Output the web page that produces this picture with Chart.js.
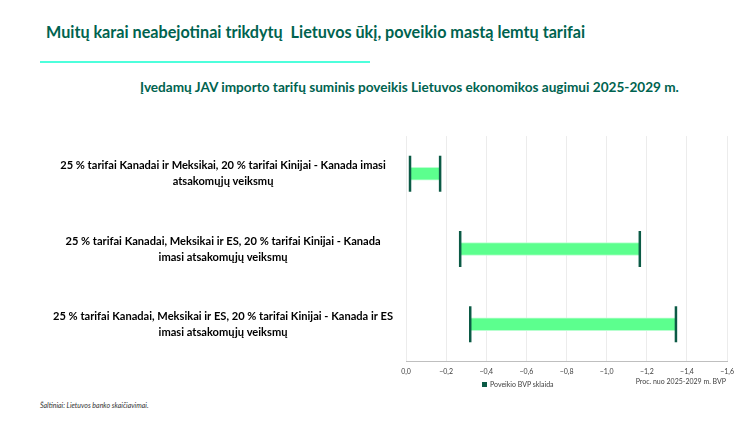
<!DOCTYPE html>
<html>
<head>
<meta charset="utf-8">
<script src="https://cdn.jsdelivr.net/npm/chart.js@4.4.1/dist/chart.umd.min.js"></script>
<style>
  body { margin:0; background:#fff; width:756px; height:422px; overflow:hidden; position:relative; font-family:Lato, sans-serif; }
  #title { position:absolute; left:46px; top:22px; font-size:16.2px; font-weight:bold; color:#00634f; white-space:nowrap; }
  #rule { position:absolute; left:40px; top:61px; width:330px; height:1.5px; background:#4dffdc; }
  #subtitle { position:absolute; left:140px; top:79px; font-size:13.6px; font-weight:bold; color:#00634f; white-space:nowrap; }
  #wrap { position:absolute; left:0; top:115px; width:740px; height:268px; }
  #legend { position:absolute; left:482px; top:380px; font-size:7px; color:#404040; white-space:nowrap; }
  #legend span { display:inline-block; width:5px; height:5px; background:#0b5a45; margin-right:3px; }
  #unit { position:absolute; right:30px; top:377px; font-size:7px; color:#404040; white-space:nowrap; }
  #source { position:absolute; left:40px; top:401px; font-size:7px; font-style:italic; color:#333; white-space:nowrap; }
</style>
</head>
<body>
<div id="title">Muitų karai neabejotinai trikdytų&nbsp; Lietuvos ūkį, poveikio mastą lemtų tarifai</div>
<div id="rule"></div>
<div id="subtitle">Įvedamų JAV importo tarifų suminis poveikis Lietuvos ekonomikos augimui 2025-2029 m.</div>
<div id="wrap"><canvas id="chart"></canvas></div>
<div id="legend"><span></span>Poveikio BVP sklaida</div>
<div id="unit">Proc. nuo 2025-2029 m. BVP</div>
<div id="source">Šaltiniai: Lietuvos banko skaičiavimai.</div>
<script>
var scenarios = [
  ['25 % tarifai Kanadai ir Meksikai, 20 % tarifai Kinijai - Kanada imasi', 'atsakomųjų veiksmų'],
  ['25 % tarifai Kanadai, Meksikai ir ES, 20 % tarifai Kinijai - Kanada', 'imasi atsakomųjų veiksmų'],
  ['25 % tarifai Kanadai, Meksikai ir ES, 20 % tarifai Kinijai - Kanada ir ES', 'imasi atsakomųjų veiksmų']
];
var lowImpact = [-0.02, -0.27, -0.32];
var highImpact = [-0.17, -1.165, -1.345];
var xTicks = [0, -0.2, -0.4, -0.6, -0.8, -1.0, -1.2, -1.4, -1.6];

var ranges = lowImpact.map(function(v, i) { return [v, highImpact[i]]; });

// vertical caps at both ends of each range bar
var capsPlugin = {
  id: 'caps',
  afterDatasetsDraw: function(chart) {
    var c = chart.ctx;
    var meta = chart.getDatasetMeta(0);
    c.save();
    c.strokeStyle = '#0b5a45';
    c.lineWidth = 2.5;
    meta.data.forEach(function(bar) {
      [bar.base, bar.x].forEach(function(px) {
        c.beginPath();
        c.moveTo(px, bar.y - 18);
        c.lineTo(px, bar.y + 18);
        c.stroke();
      });
    });
    c.restore();
  }
};

var ctx = document.getElementById('chart').getContext('2d');
new Chart(ctx, {
  type: 'bar',
  data: {
    labels: scenarios,
    datasets: [{
      label: 'Poveikio BVP sklaida',
      data: ranges,
      backgroundColor: '#5cff8e',
      borderColor: '#b8ffd0',
      borderWidth: 1,
      borderSkipped: false,
      barThickness: 13
    }]
  },
  options: {
    indexAxis: 'y',
    animation: false,
    responsive: true,
    maintainAspectRatio: false,
    layout: { padding: { top: 10, right: 5, left: 0, bottom: 0 } },
    plugins: {
      legend: { display: false },
      tooltip: { enabled: false }
    },
    scales: {
      x: {
        min: -1.6,
        max: 0,
        reverse: true,
        afterBuildTicks: function(scale) {
          scale.ticks = xTicks.map(function(v) { return { value: v }; });
        },
        grid: { color: '#ececec', drawTicks: false },
        border: { color: '#bfbfbf' },
        ticks: {
          padding: 6,
          color: '#404040',
          font: { family: 'Lato', size: 7 },
          callback: function(v) {
            var s = Math.abs(v).toFixed(1).replace('.', ',');
            return v < 0 ? '\u2212' + s : s;
          }
        }
      },
      y: {
        grid: { display: false },
        border: { display: false },
        afterFit: function(scale) { scale.width = 406; },
        ticks: {
          crossAlign: 'center',
          padding: 5,
          color: '#000',
          font: { family: 'Lato', size: 11.1, weight: 'bold', lineHeight: 1.45 }
        }
      }
    }
  },
  plugins: [capsPlugin]
});
</script>
</body>
</html>
